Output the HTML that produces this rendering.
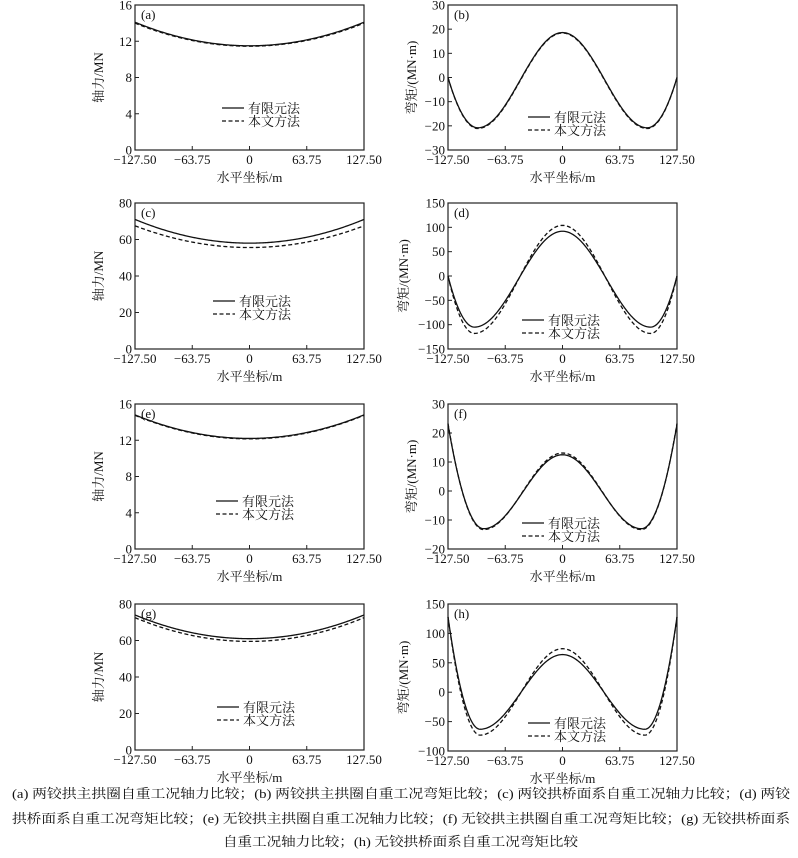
<!DOCTYPE html>
<html><head><meta charset="utf-8">
<style>
body{margin:0;background:#fff;width:798px;height:858px;overflow:hidden}
svg{display:block}
text{font-family:"Liberation Serif","Noto Serif CJK SC",serif;fill:#111}
.cap{font-size:13px}
</style></head>
<body>
<svg id="s" width="798" height="858" xmlns="http://www.w3.org/2000/svg">
<text class="cap" x="12" y="798" textLength="778" lengthAdjust="spacingAndGlyphs">(a) 两铰拱主拱圈自重工况轴力比较；(b) 两铰拱主拱圈自重工况弯矩比较；(c) 两铰拱桥面系自重工况轴力比较；(d) 两铰</text>
<text class="cap" x="12" y="823" textLength="778" lengthAdjust="spacingAndGlyphs">拱桥面系自重工况弯矩比较；(e) 无铰拱主拱圈自重工况轴力比较；(f) 无铰拱主拱圈自重工况弯矩比较；(g) 无铰拱桥面系</text>
<text class="cap" x="223" y="846" textLength="355" lengthAdjust="spacingAndGlyphs">自重工况轴力比较；(h) 无铰拱桥面系自重工况弯矩比较</text>
</svg>
<script>
var S=document.getElementById('s'),NS='http://www.w3.org/2000/svg';
function el(t,a,txt){var e=document.createElementNS(NS,t);for(var k in a)e.setAttribute(k,a[k]);if(txt!==undefined)e.textContent=txt;S.appendChild(e);return e;}
function axial(c,e){return function(u){return c+(e-c)*u*u;};}
function moment(mx,mn,um,end){return function(u){u=Math.abs(u);
 if(u<um)return mn+(mx-mn)*(1+Math.cos(Math.PI*u/um))/2;
 var t=(u-um)/(1-um);return mn+(end-mn)*t*t;};}
var P=[
{x0:135,x1:364,y0:5,y1:150,lab:'(a)',yl:'轴力/MN',ym:0,yM:16,ticks:[0,4,8,12,16],f1:axial(11.5,14.1),f2:axial(11.45,14.0),lx:222,ly:108},
{x0:448,x1:677,y0:5,y1:150,lab:'(b)',yl:'弯矩/(MN·m)',ym:-30,yM:30,ticks:[-30,-20,-10,0,10,20,30],f1:moment(18.6,-20.8,0.74,0),f2:moment(18.4,-21.1,0.74,0),lx:528,ly:117},
{x0:135,x1:364,y0:203,y1:349,lab:'(c)',yl:'轴力/MN',ym:0,yM:80,ticks:[0,20,40,60,80],f1:axial(58,71),f2:axial(55.6,67.5),lx:213,ly:301},
{x0:448,x1:677,y0:203,y1:349,lab:'(d)',yl:'弯矩/(MN·m)',ym:-150,yM:150,ticks:[-150,-100,-50,0,50,100,150],f1:moment(92,-105,0.77,0),f2:moment(104,-118,0.77,0),lx:522,ly:320},
{x0:135,x1:364,y0:404,y1:549,lab:'(e)',yl:'轴力/MN',ym:0,yM:16,ticks:[0,4,8,12,16],f1:axial(12.2,14.8),f2:axial(12.15,14.75),lx:216,ly:501},
{x0:448,x1:677,y0:404,y1:549,lab:'(f)',yl:'弯矩/(MN·m)',ym:-20,yM:30,ticks:[-20,-10,0,10,20,30],f1:moment(12.5,-13,0.69,23),f2:moment(13.1,-13.3,0.69,23.3),lx:522,ly:523},
{x0:135,x1:364,y0:604,y1:750,lab:'(g)',yl:'轴力/MN',ym:0,yM:80,ticks:[0,20,40,60,80],f1:axial(61,74),f2:axial(59.5,72.5),lx:217,ly:707},
{x0:448,x1:677,y0:604,y1:751,lab:'(h)',yl:'弯矩/(MN·m)',ym:-100,yM:150,ticks:[-100,-50,0,50,100,150],f1:moment(64,-63,0.72,128),f2:moment(74,-73,0.72,128),lx:528,ly:723}
];
var xt=[-127.5,-63.75,0,63.75,127.5],xl=['\u2212127.50','\u221263.75','0','63.75','127.50'];
P.forEach(function(p){
 var W=p.x1-p.x0,H=p.y1-p.y0;
 function X(x){return p.x0+(x+127.5)/255*W;}
 function Y(y){return p.y1-(y-p.ym)/(p.yM-p.ym)*H;}
 el('rect',{x:p.x0,y:p.y0,width:W,height:H,fill:'none',stroke:'#222','stroke-width':1.2});
 xt.forEach(function(v,i){var x=X(v);
  el('line',{x1:x,y1:p.y1,x2:x,y2:p.y1-4,stroke:'#222'});
  el('text',{x:x,y:p.y1+14,'font-size':13,'text-anchor':'middle'},xl[i]);});
 p.ticks.forEach(function(v){var y=Y(v);
  el('line',{x1:p.x0,y1:y,x2:p.x0+4,y2:y,stroke:'#222'});
  el('text',{x:p.x0-3,y:y+4.5,'font-size':13,'text-anchor':'end'},v<0?'\u2212'+(-v):String(v));});
 el('text',{x:p.x0+6,y:p.y0+14,'font-size':13},p.lab);
 el('text',{x:(p.x0+p.x1)/2,y:p.y1+32,'font-size':13,'text-anchor':'middle'},'水平坐标/m');
 var cy=(p.y0+p.y1)/2,tx=p.x0-(p.ticks.some(function(v){return Math.abs(v)>=100})?40:32);
 el('text',{x:tx,y:cy,'font-size':13,'text-anchor':'middle',transform:'rotate(-90 '+tx+' '+cy+')'},p.yl);
 [[p.f1,''],[p.f2,'4,2.5']].forEach(function(s){
  var d='';for(var i=0;i<=200;i++){var u=-1+i/100;d+=(i?'L':'M')+X(u*127.5).toFixed(2)+' '+Y(s[0](u)).toFixed(2);}
  var a={d:d,fill:'none',stroke:'#111','stroke-width':1.3};if(s[1])a['stroke-dasharray']=s[1];el('path',a);});
 el('line',{x1:p.lx,y1:p.ly,x2:p.lx+22,y2:p.ly,stroke:'#111','stroke-width':1.3});
 el('line',{x1:p.lx,y1:p.ly+13,x2:p.lx+22,y2:p.ly+13,stroke:'#111','stroke-width':1.3,'stroke-dasharray':'4,2.5'});
 el('text',{x:p.lx+26,y:p.ly+5,'font-size':13},'有限元法');
 el('text',{x:p.lx+26,y:p.ly+18,'font-size':13},'本文方法');
});
</script>
</body></html>
